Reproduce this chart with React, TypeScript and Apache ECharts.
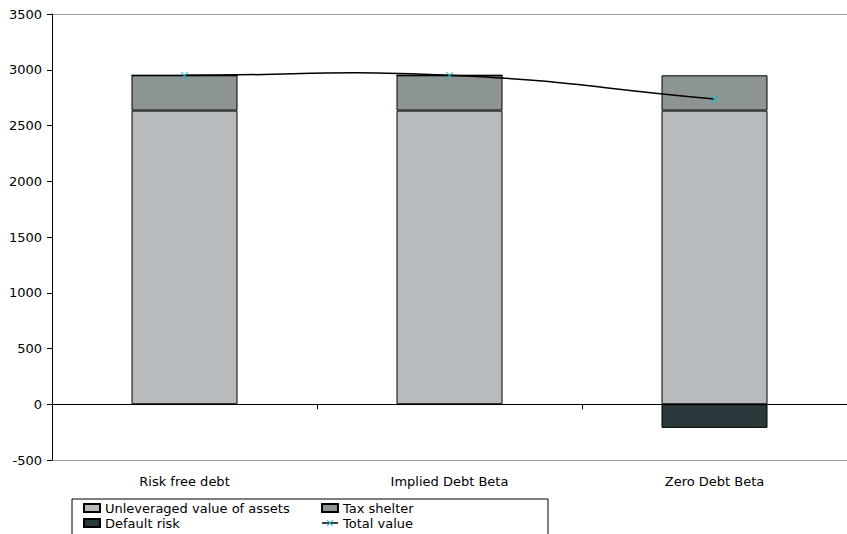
import React, { useEffect, useRef } from "react";
import * as echarts from "echarts";

const categories = ["Risk free debt", "Implied Debt Beta", "Zero Debt Beta"];
const unleveragedValue = [2634, 2634, 2634];
const taxShelter = [316, 316, 316];
const defaultRisk = [0, 0, -212];
const totalValue = [2950, 2950, 2738];
const yTicks = { min: -500, max: 3500, step: 500 };

const FONT = "DejaVu Sans";
const X_MARK = "path://M0,1L1,0L5,4L9,0L10,1L6,5L10,9L9,10L5,6L1,10L0,9L4,5Z";
// Bezier tangent factor for the smoothed total-value curve
const TENSION = 0.25;

export default function App() {
  const ref = useRef<HTMLDivElement>(null);

  useEffect(() => {
    if (!ref.current) return;
    const chart = echarts.init(ref.current, undefined, { renderer: "svg" });
    const legendText = { fontFamily: FONT, fontSize: 13, color: "#000", lineHeight: 14 };

    // Draws the curve segment from point i to point i+1; control points
    // follow the neighbouring points, with end points mirrored outward.
    const renderCurve = (params: any, api: any) => {
      const i = params.dataIndex;
      const n = totalValue.length;
      if (i >= n - 1) return null;
      const pt = (k: number): number[] => {
        if (k < 0) {
          const a = pt(0);
          const b = pt(1);
          return [2 * a[0] - b[0], 2 * a[1] - b[1]];
        }
        if (k > n - 1) {
          const a = pt(n - 1);
          const b = pt(n - 2);
          return [2 * a[0] - b[0], 2 * a[1] - b[1]];
        }
        return api.coord([k, totalValue[k]]);
      };
      const p0 = pt(i - 1);
      const p1 = pt(i);
      const p2 = pt(i + 1);
      const p3 = pt(i + 2);
      return {
        type: "bezierCurve",
        shape: {
          x1: p1[0],
          y1: p1[1],
          x2: p2[0],
          y2: p2[1],
          cpx1: p1[0] + TENSION * (p2[0] - p0[0]),
          cpy1: p1[1] + TENSION * (p2[1] - p0[1]),
          cpx2: p2[0] - TENSION * (p3[0] - p1[0]),
          cpy2: p2[1] - TENSION * (p3[1] - p1[1]),
        },
        style: { stroke: "#000", lineWidth: 1.5, fill: "none" },
      };
    };

    chart.setOption({
      animation: false,
      backgroundColor: "#fff",
      textStyle: { fontFamily: FONT },
      grid: { left: 52, top: 14, right: -4, bottom: 74 },
      xAxis: [
        {
          type: "category",
          data: categories,
          axisLine: { onZero: true, lineStyle: { color: "#000", width: 1 } },
          axisTick: { show: true, length: 5, lineStyle: { color: "#000" } },
          axisLabel: { show: false },
          z: 3,
        },
        {
          type: "category",
          data: categories,
          position: "bottom",
          axisLine: { show: true, onZero: false, lineStyle: { color: "#999", width: 1 } },
          axisTick: { show: false },
          axisLabel: { margin: 15, fontFamily: FONT, fontSize: 13, color: "#000" },
        },
        {
          type: "category",
          data: categories,
          position: "top",
          axisLine: { show: true, onZero: false, lineStyle: { color: "#999", width: 1 } },
          axisTick: { show: false },
          axisLabel: { show: false },
        },
      ],
      yAxis: {
        type: "value",
        min: yTicks.min,
        max: yTicks.max,
        interval: yTicks.step,
        axisLine: { show: true, lineStyle: { color: "#000", width: 1 } },
        axisTick: { show: true, length: 5, lineStyle: { color: "#000" } },
        splitLine: { show: false },
        axisLabel: {
          margin: 10,
          fontFamily: FONT,
          fontSize: 13,
          color: "#000",
          formatter: (v: number) => String(v),
        },
        z: 4,
      },
      legend: [
        {
          left: 83,
          top: 501,
          orient: "vertical",
          itemWidth: 16,
          itemHeight: 8,
          itemGap: 1,
          padding: 0,
          textStyle: legendText,
          data: [
            { name: "Unleveraged value of assets", icon: "rect" },
            { name: "Default risk", icon: "rect" },
          ],
        },
        {
          left: 321,
          top: 501,
          orient: "vertical",
          itemWidth: 16,
          itemHeight: 8,
          itemGap: 1,
          padding: 0,
          textStyle: legendText,
          data: [
            { name: "Tax shelter", icon: "rect" },
            {
              name: "Total value",
              lineStyle: { color: "#000", width: 1.5, opacity: 1 },
            },
          ],
        },
      ],
      graphic: [
        {
          type: "rect",
          left: 69.5,
          top: 496.5,
          shape: { width: 476, height: 37 },
          style: { fill: "none", stroke: "#000", lineWidth: 1 },
          z: -1,
        },
      ],
      series: [
        {
          name: "Unleveraged value of assets",
          type: "bar",
          stack: "value",
          barWidth: "40%",
          data: unleveragedValue,
          itemStyle: { color: "#B8BBBD", borderColor: "#000", borderWidth: 1 },
        },
        {
          name: "Tax shelter",
          type: "bar",
          stack: "value",
          data: taxShelter,
          itemStyle: { color: "#8C9494", borderColor: "#000", borderWidth: 1 },
        },
        {
          name: "Default risk",
          type: "bar",
          stack: "value",
          data: defaultRisk,
          itemStyle: { color: "#29383B", borderColor: "#000", borderWidth: 1 },
        },
        {
          name: "Total value curve",
          type: "custom",
          renderItem: renderCurve,
          data: totalValue.map((v, i) => [i, v]),
          encode: { x: 0, y: 1 },
          z: 4,
          silent: true,
        },
        {
          name: "Total value",
          type: "line",
          data: totalValue,
          symbol: X_MARK,
          symbolSize: 7,
          z: 5,
          lineStyle: { color: "#000", width: 1.5, opacity: 0 },
          itemStyle: { color: "#20B5C8" },
        },
      ],
    });
    return () => chart.dispose();
  }, []);

  return (
    <div
      ref={ref}
      style={{ position: "fixed", left: 0, top: 0, width: 847, height: 534 }}
    />
  );
}
